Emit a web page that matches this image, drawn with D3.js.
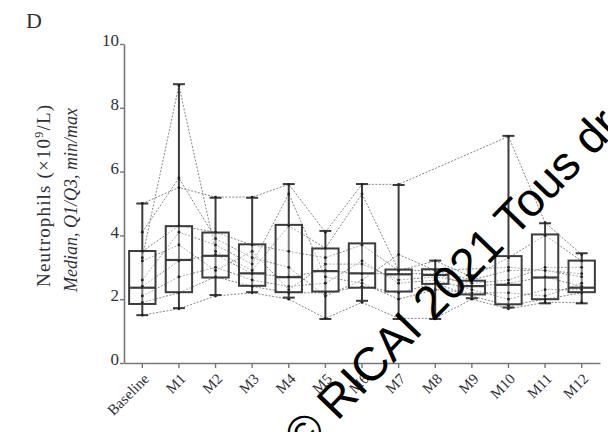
<!DOCTYPE html>
<html>
<head>
<meta charset="utf-8">
<script src="https://cdn.jsdelivr.net/npm/d3@7"></script>
<style>
  body { margin: 0; background: #fff; }
  svg { display: block; }
</style>
</head>
<body>
<svg width="608" height="432"></svg>
<script>
const width = 608;
const height = 432;

const visits = ["Baseline", "M1", "M2", "M3", "M4", "M5", "M6", "M7", "M8", "M9", "M10", "M11", "M12"];

// box stats
const mins    = [1.50, 1.72, 2.13, 2.22, 2.05, 1.38, 1.95, 1.38, 1.38, 2.03, 1.74, 1.87, 1.87];
const q1s     = [1.85, 2.22, 2.68, 2.42, 2.22, 2.24, 2.36, 2.24, 2.48, 2.15, 1.84, 2.00, 2.22];
const medians = [2.36, 3.23, 3.36, 2.81, 2.69, 2.88, 2.81, 2.78, 2.76, 2.41, 2.45, 2.68, 2.36];
const q3s     = [3.51, 4.29, 4.09, 3.72, 4.33, 3.59, 3.75, 2.93, 2.94, 2.58, 3.35, 4.03, 3.21];
const maxs    = [5.00, 8.74, 5.18, 5.18, 5.61, 4.14, 5.61, 5.58, 3.21, 2.75, 7.12, 4.38, 3.44];

// individual patients (null = missing visit)
const patients = [
  [5.0, 5.5, 5.2, 5.2, 5.6, 4.1, 5.6, 5.6, null, null, 7.1, 4.4, 3.4],
  [3.3, 8.7, 3.5, 2.9, 4.3, 3.6, 5.3, 2.9, 3.2, 2.7, 3.3, 4.0, 3.2],
  [1.5, 1.7, 2.1, 2.2, 2.0, 1.4, 1.9, 1.4, 1.4, 2.0, 1.7, 1.9, 1.9],
  [1.9, 2.2, 2.7, 2.4, 2.2, 2.2, 2.4, 2.2, 2.5, 2.1, 1.8, 2.0, 2.2],
  [2.4, 3.2, 3.4, 2.8, 2.7, 2.9, 2.8, 2.8, 2.8, 2.4, 2.5, 2.7, 2.4],
  [3.5, 4.3, 4.1, 3.7, 3.5, 3.3, 3.7, 2.9, 2.9, 2.6, 2.9, 2.9, 2.7],
  [2.1, 2.7, 3.0, 2.6, 2.4, 2.5, 3.2, 2.5, 2.6, 2.3, 2.0, 2.3, 2.3],
  [4.1, 5.8, 3.9, 3.3, 3.0, 2.1, 2.6, 3.4, 2.9, null, 3.0, null, 2.8],
  [2.6, 4.1, 3.7, 3.1, 5.3, 2.7, 2.5, 2.0, 2.3, 2.2, 2.2, 2.1, 2.5],
  [3.2, 3.7, 2.9, 3.5, 2.3, 3.1, 3.1, 2.6, 2.7, 2.5, 2.6, 3.0, 3.0]
];

const yTicks = [0, 2, 4, 6, 8, 10];

const svg = d3.select("svg");

const x = d3.scaleBand().domain(visits).range([124, 600]);
const y = d3.scaleLinear().domain([0, 10]).range([363, 44]);
const boxW = x.bandwidth() * 0.72;
const cx = d => x(d) + x.bandwidth() / 2;

const serif = "'Liberation Serif', 'DejaVu Serif', serif";
const textColor = "#2f2f3a";

// patient lines
const line = d3.line()
  .x(d => cx(d.v))
  .y(d => y(d.val));

patients.forEach(p => {
  const pts = p.map((val, i) => ({ v: visits[i], val })).filter(d => d.val != null);
  svg.append("path")
    .attr("d", line(pts))
    .attr("fill", "none")
    .attr("stroke", "#7a7a7a")
    .attr("stroke-width", 0.9)
    .attr("stroke-dasharray", "2,1.5");
});

// boxes
const stats = visits.map((v, i) => ({ v, min: mins[i], q1: q1s[i], med: medians[i], q3: q3s[i], max: maxs[i] }));
const boxes = svg.append("g").attr("stroke", "#3c3c3c").attr("fill", "none");

boxes.selectAll(".whisker")
  .data(stats)
  .join("line")
  .attr("x1", d => cx(d.v)).attr("x2", d => cx(d.v))
  .attr("y1", d => y(d.max)).attr("y2", d => y(d.min))
  .attr("stroke-width", 2);

boxes.selectAll(".capTop")
  .data(stats)
  .join("line")
  .attr("x1", d => cx(d.v) - 6).attr("x2", d => cx(d.v) + 6)
  .attr("y1", d => y(d.max)).attr("y2", d => y(d.max))
  .attr("stroke-width", 2);

boxes.selectAll(".capBot")
  .data(stats)
  .join("line")
  .attr("x1", d => cx(d.v) - 6).attr("x2", d => cx(d.v) + 6)
  .attr("y1", d => y(d.min)).attr("y2", d => y(d.min))
  .attr("stroke-width", 2);

boxes.selectAll(".box")
  .data(stats)
  .join("rect")
  .attr("x", d => cx(d.v) - boxW / 2)
  .attr("y", d => y(d.q3))
  .attr("width", boxW)
  .attr("height", d => y(d.q1) - y(d.q3))
  .attr("fill", "rgba(255,255,255,0.35)")
  .attr("stroke-width", 2);

boxes.selectAll(".median")
  .data(stats)
  .join("line")
  .attr("x1", d => cx(d.v) - boxW / 2).attr("x2", d => cx(d.v) + boxW / 2)
  .attr("y1", d => y(d.med)).attr("y2", d => y(d.med))
  .attr("stroke-width", 2.2);

// dots
patients.forEach(p => {
  svg.append("g").selectAll("circle")
    .data(p.map((val, i) => ({ v: visits[i], val })).filter(d => d.val != null))
    .join("circle")
    .attr("cx", d => cx(d.v))
    .attr("cy", d => y(d.val))
    .attr("r", 1.4)
    .attr("fill", "#222");
});

// axes
const yAxis = d3.axisLeft(y).tickValues(yTicks).tickSize(4).tickSizeOuter(0);
const gy = svg.append("g")
  .attr("transform", "translate(124,0)")
  .call(yAxis);
gy.select(".domain").attr("stroke", "#777").attr("stroke-width", 1.6);
gy.selectAll(".tick line").attr("stroke", "#777").attr("stroke-width", 1.4);
gy.selectAll(".tick text")
  .attr("font-family", serif)
  .attr("font-size", 17)
  .attr("fill", textColor)
  .attr("x", -5)
  .attr("dy", "0.1em");

const xAxis = d3.axisBottom(x).tickSize(5).tickSizeOuter(0);
const gx = svg.append("g")
  .attr("transform", "translate(0,363)")
  .call(xAxis);
gx.select(".domain").attr("stroke", "#777").attr("stroke-width", 1.6);
gx.selectAll(".tick line").attr("stroke", "#777").attr("stroke-width", 1.4);
gx.selectAll(".tick text")
  .attr("font-family", serif)
  .attr("font-size", 15)
  .attr("fill", textColor)
  .attr("text-anchor", "end")
  .attr("x", 0).attr("y", 0)
  .attr("dy", "0.35em")
  .attr("transform", "translate(4,13) rotate(-45)");

// panel letter
svg.append("text")
  .attr("x", 26).attr("y", 28)
  .attr("font-family", serif)
  .attr("font-size", 22)
  .attr("fill", textColor)
  .text("D");

// y title
const yTitle = svg.append("text")
  .attr("transform", "translate(50,196) rotate(-90)")
  .attr("text-anchor", "middle")
  .attr("font-family", serif)
  .attr("font-size", 19)
  .attr("textLength", 182)
  .attr("lengthAdjust", "spacing")
  .attr("fill", textColor);
yTitle.append("tspan").text("Neutrophils (×10");
yTitle.append("tspan").attr("baseline-shift", "super").attr("font-size", 12).text("9");
yTitle.append("tspan").text("/L)");

svg.append("text")
  .attr("transform", "translate(77,200) rotate(-90)")
  .attr("text-anchor", "middle")
  .attr("font-family", serif)
  .attr("font-style", "italic")
  .attr("font-size", 18)
  .attr("fill", textColor)
  .text("Median, Q1/Q3, min/max");

// watermark
svg.append("text")
  .attr("transform", "translate(304,456) rotate(-46)")
  .attr("font-family", "'Liberation Sans', Arial, sans-serif")
  .attr("font-size", 47)
  .attr("fill", "#000")
  .text("© RICAI 2021 Tous droits réservés");
</script>
</body>
</html>
